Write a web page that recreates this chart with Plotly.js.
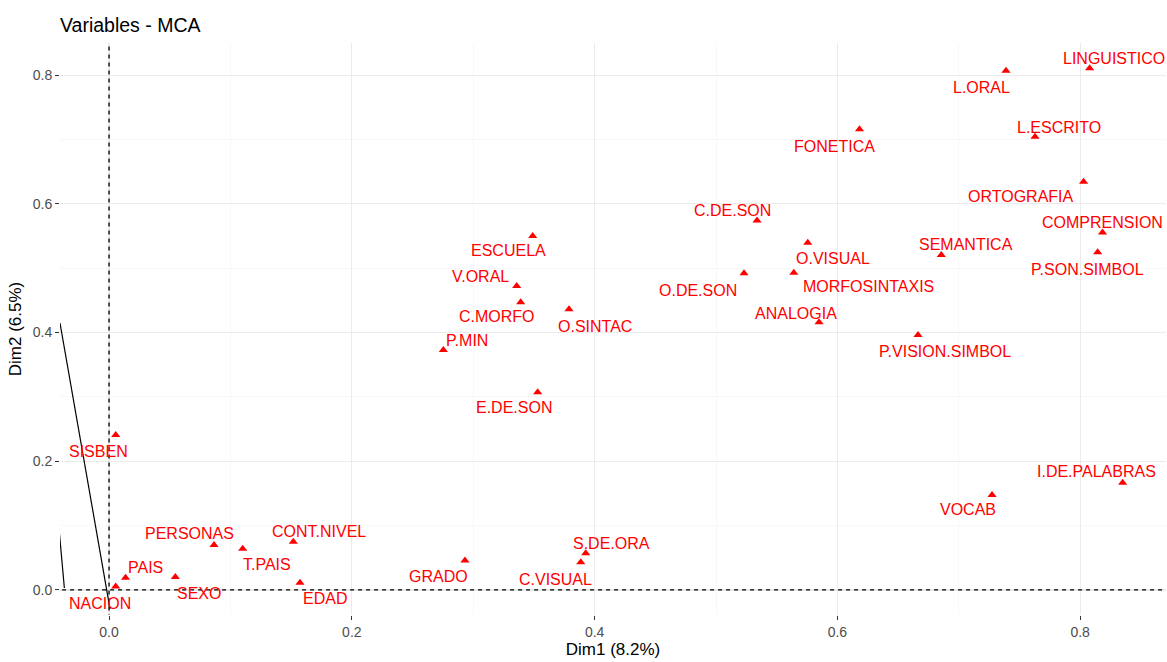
<!DOCTYPE html>
<html>
<head>
<meta charset="utf-8">
<script src="https://cdn.plot.ly/plotly-3.0.1.min.js"></script>
<style>html,body{margin:0;padding:0;background:#fff;}#chart{width:1167px;height:662px;}</style>
</head>
<body>
<div id="chart"></div>
<script>
// Category labels
const labels = ["LINGUISTICO","L.ORAL","L.ESCRITO","FONETICA","ORTOGRAFIA","C.DE.SON","COMPRENSION","P.SON.SIMBOL","SEMANTICA","O.VISUAL","MORFOSINTAXIS","O.DE.SON","ANALOGIA","P.VISION.SIMBOL","ESCUELA","V.ORAL","C.MORFO","O.SINTAC","P.MIN","E.DE.SON","SISBEN","NACION","PAIS","SEXO","PERSONAS","T.PAIS","CONT.NIVEL","EDAD","GRADO","C.VISUAL","S.DE.ORA","VOCAB","I.DE.PALABRAS"];
// Dim1 coordinates
const dim1 = [0.8078,0.7389,0.7628,0.6182,0.8028,0.5338,0.8184,0.8144,0.6856,0.5756,0.5641,0.5231,0.5849,0.6664,0.3490,0.3358,0.3391,0.3789,0.2754,0.3531,0.0055,0.0055,0.0136,0.0546,0.0865,0.1101,0.1518,0.1573,0.2932,0.3886,0.3927,0.7274,0.8350];
// Dim2 coordinates
const dim2 = [0.8107,0.8070,0.7044,0.7159,0.6345,0.5742,0.5556,0.5248,0.5206,0.5397,0.4931,0.4921,0.4160,0.3963,0.5501,0.4724,0.4471,0.4362,0.3730,0.3072,0.2409,0.0054,0.0190,0.0202,0.0699,0.0642,0.0751,0.0113,0.0458,0.0430,0.0570,0.1476,0.1667];
// Supplementary segments (partially outside panel)
const seg1X = [-0.0404, 0.0008];
const seg1Y = [0.4149, -0.0295];
const seg2X = [-0.0409, -0.0368];
const seg2Y = [0.0886, 0.0031];
// Axis ticks
const tickVals = [0, 0.2, 0.4, 0.6, 0.8];
const tickText = ["0.0","0.2","0.4","0.6","0.8"];

// label offsets in pixels (repel placement), dx right, dy down
const labelDx = [24,-25,24,-25,-63,-25,0,-10,25,25.5,75,-46,-23,27,-24,-36,-24,26,23.5,-24,-17,-16,19.5,24,-25,24,26,25,-26,-25,26,-24,-26];
const labelDy = [-10,17,-9,17,15,-10,-10,17,-10,16,14,17,-9,17,15,-9,14,17,-9,15,17,17,-10.5,17,-11,16,-10,16,16,17,-10,15,-11];

const FONT = "Liberation Sans, Arial, sans-serif";
const X_RANGE = [-0.0404, 0.8707];
const Y_RANGE = [-0.0389, 0.850];

const traces = [
  // reference dashed lines at the origin (clipped to the panel)
  {x: [0, 0], y: [Y_RANGE[0] - 1, Y_RANGE[1] + 1], mode: "lines", line: {color: "#000", width: 1.3, dash: "4px,4px"}, hoverinfo: "skip", showlegend: false},
  {x: [X_RANGE[0] - 1, X_RANGE[1] + 1], y: [0, 0], mode: "lines", line: {color: "#000", width: 1.3, dash: "4px,4px"}, hoverinfo: "skip", showlegend: false},
  {x: seg1X, y: seg1Y, mode: "lines", line: {color: "#000", width: 1.2}, hoverinfo: "skip", showlegend: false},
  {x: seg2X, y: seg2Y, mode: "lines", line: {color: "#000", width: 1.2}, hoverinfo: "skip", showlegend: false},
  {x: dim1, y: dim2, text: labels, mode: "markers", type: "scatter",
   marker: {symbol: "triangle-up", size: 8, color: "#FF0000"}, showlegend: false}
];

const annotations = labels.map((t, i) => ({
  x: dim1[i], y: dim2[i], xref: "x", yref: "y", text: t, showarrow: false,
  xshift: labelDx[i], yshift: -labelDy[i], xanchor: "center", yanchor: "middle",
  font: {family: FONT, size: 16, color: "#FF0000"}
}));

const layout = {
  width: 1167, height: 662,
  margin: {l: 60, r: 1, t: 43, b: 47},
  paper_bgcolor: "#fff", plot_bgcolor: "#fff",
  font: {family: FONT},
  title: {text: "Variables - MCA", x: 60/1167, xref: "container", xanchor: "left",
          y: 1 - 25/662, yref: "container", yanchor: "middle",
          font: {family: FONT, size: 19.5, color: "#000"}},
  xaxis: {
    range: X_RANGE, tickvals: tickVals, ticktext: tickText,
    showgrid: true, gridcolor: "#ebebeb", gridwidth: 1.1,
    minor: {dtick: 0.1, tick0: 0, showgrid: true, gridcolor: "#f3f3f3", gridwidth: 0.6, ticks: ""},
    zeroline: false, showline: false, ticks: "outside", ticklen: 4, tickcolor: "#333", tickwidth: 1,
    tickfont: {family: FONT, size: 14, color: "#4d4d4d"},
    title: {text: "Dim1 (8.2%)", font: {family: FONT, size: 17, color: "#000"}, standoff: 2},
    automargin: false
  },
  yaxis: {
    range: Y_RANGE, tickvals: tickVals, ticktext: tickText,
    showgrid: true, gridcolor: "#ebebeb", gridwidth: 1.1,
    minor: {dtick: 0.1, tick0: 0, showgrid: true, gridcolor: "#f3f3f3", gridwidth: 0.6, ticks: ""},
    zeroline: false, showline: false, ticks: "outside", ticklen: 4, tickcolor: "#333", tickwidth: 1,
    tickfont: {family: FONT, size: 14, color: "#4d4d4d"},
    title: {text: "Dim2 (6.5%)", font: {family: FONT, size: 17, color: "#000"}, standoff: 6},
    automargin: false
  },
  annotations: annotations
};

Plotly.newPlot("chart", traces, layout, {displayModeBar: false, staticPlot: true});
</script>
</body>
</html>
